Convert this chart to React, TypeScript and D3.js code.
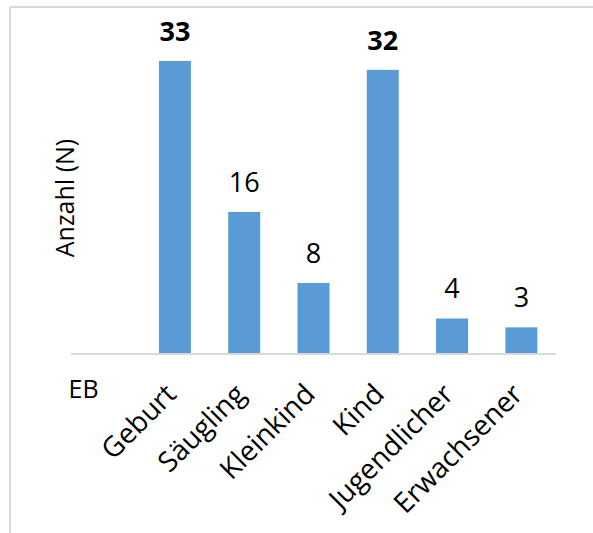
import React from "react";
import * as d3 from "d3";

const categories = ["EB", "Geburt", "Säugling", "Kleinkind", "Kind", "Jugendlicher", "Erwachsener"];
const values = [0, 33, 16, 8, 32, 4, 3];
const emphasized = [false, true, false, false, true, false, false];
const yTitle = "Anzahl (N)";

const W = 593;
const H = 533;
const FONT = "'Open Sans', sans-serif";

export default function App() {
  const x = d3.scaleBand<string>().domain(categories).range([71, 556]);
  const y = d3.scaleLinear().domain([0, 35]).range([354, 43.2]);
  const center = (c: string) => (x(c) as number) + x.bandwidth() / 2;
  const bw = 32;

  return (
    <svg width={W} height={H} style={{ position: "absolute", left: 0, top: 0, background: "#fff" }}>
      {/* frame */}
      <line x1={10} y1={7} x2={W} y2={7} stroke="#D9D9D9" strokeWidth={2} />
      <line x1={10} y1={7} x2={10} y2={H} stroke="#D9D9D9" strokeWidth={2} />
      {/* bars */}
      {categories.map((c, i) =>
        values[i] > 0 ? (
          <rect key={c} x={center(c) - bw / 2} y={y(values[i])} width={bw} height={y(0) - y(values[i])} fill="#5B9BD5" />
        ) : null
      )}
      {/* axis */}
      <line x1={71} x2={556} y1={354} y2={354} stroke="#D9D9D9" strokeWidth={2} />
      {/* data labels */}
      {categories.map((c, i) =>
        values[i] > 0 ? (
          <text
            key={c}
            x={center(c)}
            y={y(values[i]) - 20}
            textAnchor="middle"
            fontFamily={FONT}
            fontSize={27}
            fontWeight={emphasized[i] ? "bold" : "normal"}
            fill="#000"
          >
            {values[i]}
          </text>
        ) : null
      )}
      {/* category labels */}
      {categories.map((c, i) =>
        i === 0 ? (
          <text key={c} x={center(c) - 7} y={398} textAnchor="end" fontFamily={FONT} fontSize={25} fill="#000">
            {c}
          </text>
        ) : (
          <text
            key={c}
            transform={`translate(${center(c) + 3},${396}) rotate(-45)`}
            textAnchor="end"
            fontFamily={FONT}
            fontSize={28}
            fill="#000"
          >
            {c}
          </text>
        )
      )}
      {/* y title */}
      <text transform={`translate(74,198) rotate(-90)`} textAnchor="middle" fontFamily={FONT} fontSize={25} fill="#000">
        {yTitle}
      </text>
    </svg>
  );
}
